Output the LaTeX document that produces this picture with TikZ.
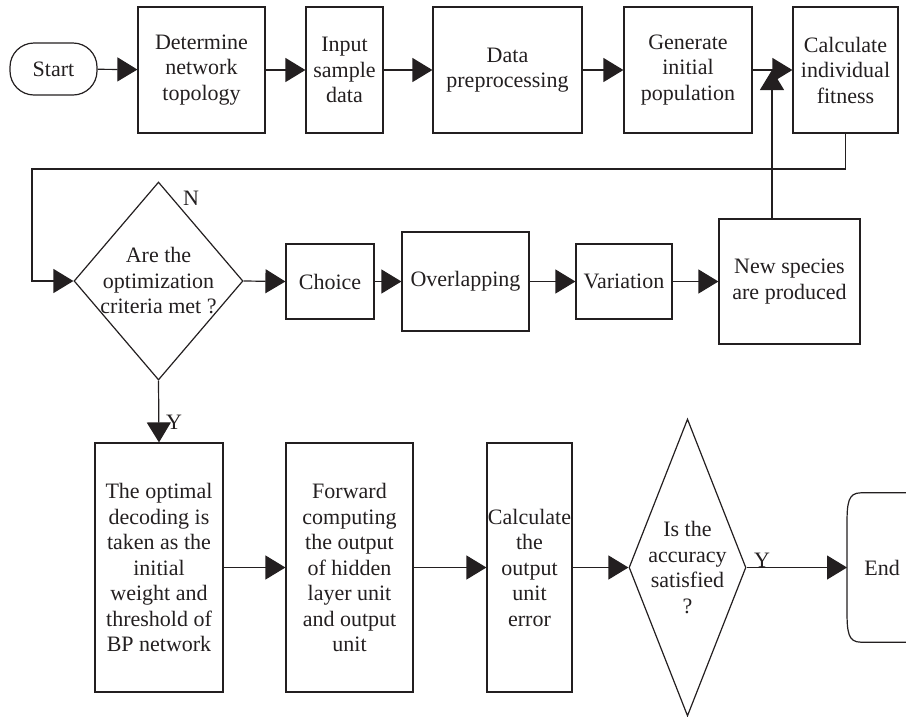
\documentclass[tikz,border=0pt]{standalone}
\usepackage{fontspec}
\setmainfont{Liberation Serif}
\usetikzlibrary{shapes.geometric,arrows.meta,calc}
\definecolor{ink}{RGB}{35,31,32}
\begin{document}
\begin{tikzpicture}[x=1pt,y=-1pt,
  every node/.style={font=\fontsize{22}{25.5}\selectfont, text=ink, align=center, inner sep=0pt},
  box/.style={draw=ink, line width=1.2pt, rectangle},
  dia/.style={draw=ink, line width=1.2pt, diamond},
  term/.style={draw=ink, line width=1.2pt, rectangle, rounded corners=24pt},
  arr/.style={draw=ink, line width=1.2pt, -{Triangle[length=20pt,width=24pt]}},
  ln/.style={draw=ink, line width=1.2pt}]
\useasboundingbox (0,0) rectangle (906,716);
\begin{scope}
\clip (0,0) rectangle (906,716);
% top row
\node[term, minimum width=87pt, minimum height=52pt] (start) at (53.5,69) {Start};
\node[box, minimum width=127pt, minimum height=126pt] (det) at (201.5,70) {Determine\\network\\topology};
\node[box, minimum width=77pt, minimum height=126pt] (inp) at (344.5,70) {Input\\sample\\data};
\node[box, minimum width=149pt, minimum height=126pt] (dat) at (507.5,70) {Data\\preprocessing};
\node[box, minimum width=128pt, minimum height=126pt] (gen) at (688,70) {Generate\\initial\\population};
\node[box, minimum width=105pt, minimum height=126pt] (calc) at (845.5,70) {Calculate\\individual\\fitness};
% middle row
\node[dia, minimum width=169pt, minimum height=198pt] (d1) at (158.5,281) {};
\node (d1t) at (158.5,281) {Are the\\optimization\\criteria met ?};
\node[box, minimum width=88pt, minimum height=75pt] (cho) at (330,281.5) {Choice};
\node[box, minimum width=127pt, minimum height=99pt] (ovl) at (465.5,281.5) {Overlapping};
\node[box, minimum width=96pt, minimum height=75pt] (var) at (624,281.5) {Variation};
\node[box, minimum width=141pt, minimum height=125pt] (nsp) at (789.5,281.5) {New species\\are produced};
% bottom row
\node[box, minimum width=128pt, minimum height=249pt] (b1) at (159,567.5) {The optimal\\decoding is\\taken as the\\initial\\weight and\\threshold of\\BP network};
\node[box, minimum width=127pt, minimum height=249pt] (b2) at (349.5,567.5) {Forward\\computing\\the output\\of hidden\\layer unit\\and output\\unit};
\node[box, minimum width=85pt, minimum height=249pt] (b3) at (529.5,567.5) {Calculate\\the\\output\\unit\\error};
\node[dia, minimum width=117pt, minimum height=297pt] (d2) at (687.5,567.5) {};
\node (d2t) at (687.5,567.5) {Is the\\accuracy\\satisfied\\?};
\node[anchor=west, minimum width=70pt, minimum height=149pt] (end) at (847,567.5) {End};
\draw[ln] (end.north east) -- ($(end.north west)+(14,0)$)
  .. controls ($(end.north west)+(1,0)$) and ($(end.north west)+(0,10)$) .. ($(end.north west)+(0,32)$)
  -- ($(end.south west)+(0,-32)$)
  .. controls ($(end.south west)+(0,-10)$) and ($(end.south west)+(1,0)$) .. ($(end.south west)+(14,0)$)
  -- (end.south east);
% connectors
\draw[arr] (start) -- (det);
\draw[arr] (det) -- (inp);
\draw[arr] (inp) -- (dat);
\draw[arr] (dat) -- (gen);
\draw[arr] (gen) -- (calc);
\coordinate (upt) at (772,70);
\draw[arr] (upt |- nsp.north) -- (upt);
\coordinate (lp) at (32,169);
\draw[arr] (calc.south) |- (lp) |- (d1.west);
\draw[arr] (d1.east) -- (cho.west);
\draw[arr] (cho) -- (ovl);
\draw[arr] (ovl) -- (var);
\draw[arr] (var) -- (nsp);
\draw[arr] (d1.south) -- (b1.north);
\draw[arr] (b1) -- (b2);
\draw[arr] (b2) -- (b3);
\draw[arr] (b3.east) -- (d2.west);
\draw[arr] (d2.east) -- (end.west);
% labels
\node (lN) at (191,198) {N};
\node (lY1) at (174,422) {Y};
\node (lY2) at (762,560) {Y};
\end{scope}
\end{tikzpicture}
\end{document}
